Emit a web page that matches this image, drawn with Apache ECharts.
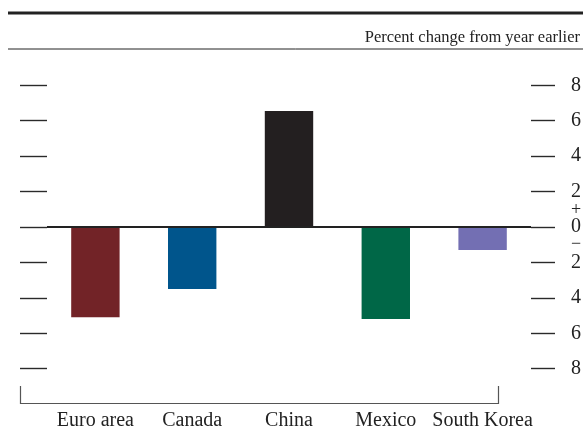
<!DOCTYPE html>
<html>
<head>
<meta charset="utf-8">
<script src="https://cdn.jsdelivr.net/npm/echarts@6/dist/echarts.min.js"></script>
<style>
    html, body { margin: 0; padding: 0; background: #fff; }
    #chart { width: 583px; height: 427px; }
</style>
</head>
<body>
<div id="chart"></div>
<script>
    // data
    var categories = ['Euro area', 'Canada', 'China', 'Mexico', 'South Korea'];
    var values = [-5.1, -3.5, 6.55, -5.2, -1.3];
    var barColors = ['#722327', '#00558c', '#231f20', '#006747', '#736fb3'];
    var yTicks = [-8, -6, -4, -2, 0, 2, 4, 6, 8];

    var chart = echarts.init(document.getElementById('chart'));
    var font = 'Liberation Serif';
    var tickColor = '#2a2a2a';

    var option = {
        animation: false,
        textStyle: { fontFamily: font },
        title: {
            text: 'Percent change from year earlier',
            right: 3,
            top: 29,
            padding: 0,
            textStyle: { fontFamily: font, fontSize: 16.5, fontWeight: 'normal', color: '#222' }
        },
        grid: { left: 47, right: 52, top: 85.3, bottom: 58.3, outerBoundsMode: 'none', containLabel: false },
        xAxis: {
            type: 'category',
            data: categories,
            axisLine: { show: false, onZero: false },
            axisTick: { show: false },
            axisLabel: { margin: 42, fontSize: 20, color: '#222', fontFamily: font, interval: 0 }
        },
        yAxis: [
            {
                type: 'value', position: 'left', min: -8, max: 8, interval: 2,
                axisLine: { show: false },
                axisTick: { show: true, length: 27, lineStyle: { color: tickColor, width: 1.4 } },
                axisLabel: { show: false },
                splitLine: { show: false }
            },
            {
                type: 'value', position: 'right', min: -8, max: 8, interval: 2,
                axisLine: { show: false },
                axisTick: { show: true, length: 24, lineStyle: { color: tickColor, width: 1.4 } },
                axisLabel: {
                    margin: 40, fontSize: 20, color: '#222', fontFamily: font, align: 'left',
                    formatter: function (v) {
                        if (yTicks.indexOf(v) < 0) return '';
                        if (v === 0) return '{s|+}\n0\n{s|\u2212}';
                        return String(Math.abs(v));
                    },
                    lineHeight: 17,
                    rich: { s: { fontSize: 18, lineHeight: 17, fontFamily: font, color: '#222' } }
                },
                splitLine: { show: false }
            }
        ],
        series: [{
            type: 'bar',
            yAxisIndex: 0,
            barWidth: '50%',
            data: values.map(function (v, i) {
                return { value: v, itemStyle: { color: barColors[i] } };
            }),
            markLine: {
                silent: true,
                symbol: 'none',
                label: { show: false },
                lineStyle: { color: '#222', width: 2, type: 'solid' },
                data: [{ yAxis: 0 }]
            }
        }],
        graphic: [
            // rules at the top
            { type: 'line', shape: { x1: 8, y1: 13, x2: 583, y2: 13 }, style: { stroke: '#222', lineWidth: 3 } },
            { type: 'line', shape: { x1: 8, y1: 49, x2: 583, y2: 49 }, style: { stroke: '#222', lineWidth: 1 } },
            // bracket under the plot
            { type: 'polyline', shape: { points: [[20.5, 386], [20.5, 403.5], [498.5, 403.5], [498.5, 386]] },
              style: { stroke: '#555', lineWidth: 1.2, fill: null } }
        ]
    };
    chart.setOption(option);
</script>
</body>
</html>
